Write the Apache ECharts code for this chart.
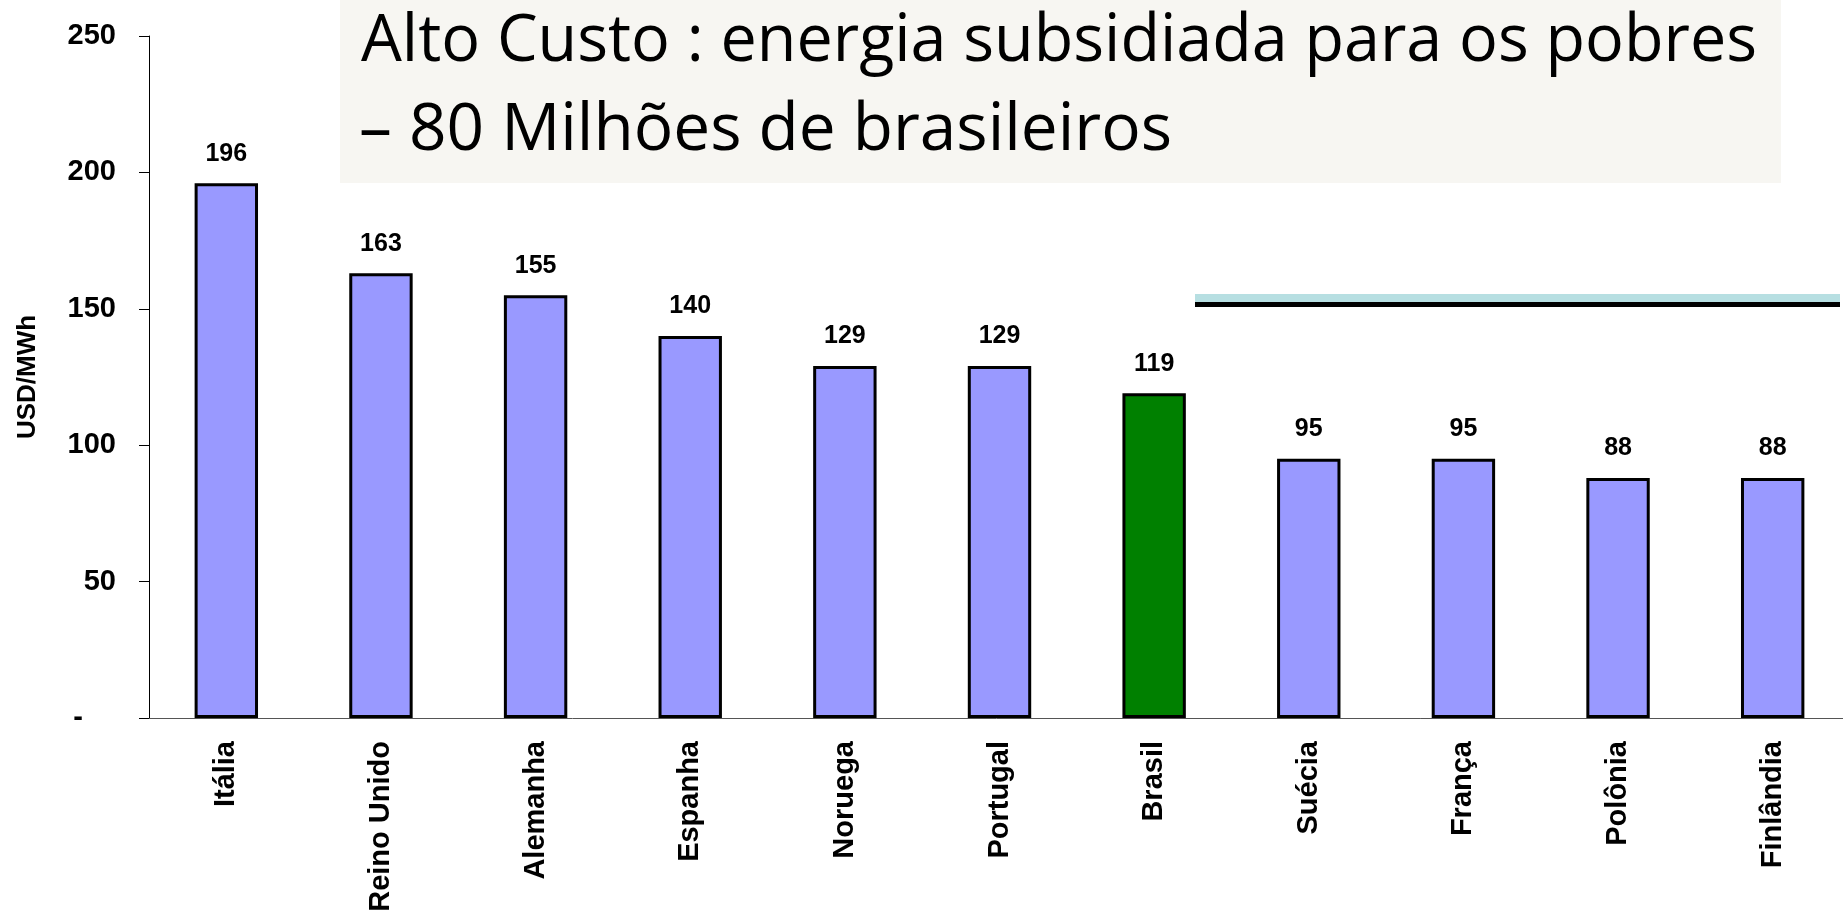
<!DOCTYPE html>
<html>
<head>
<meta charset="utf-8">
<title>Alto Custo</title>
<script src="https://cdn.jsdelivr.net/npm/echarts@6/dist/echarts.min.js"></script>
<style>
  html, body { margin: 0; padding: 0; background: #fff; }
  #main { width: 1843px; height: 911px; }
</style>
</head>
<body>
<div id="main"></div>
<script>
// dados
var categories = ['Itália', 'Reino Unido', 'Alemanha', 'Espanha', 'Noruega', 'Portugal', 'Brasil', 'Suécia', 'França', 'Polônia', 'Finlândia'];
var values = [196, 163, 155, 140, 129, 129, 119, 95, 95, 88, 88];
var highlight = 'Brasil';
var yMin = 0, yMax = 250, yStep = 50;
var yName = 'USD/MWh';
var titleLines = ['Alto Custo : energia subsidiada para os pobres', '\u2013 80 Milhões de brasileiros'];

var titleFont = '66px "Open Sans"';
function fitScale(text, width) {
  var ctx = document.createElement('canvas').getContext('2d');
  ctx.font = titleFont;
  return width / ctx.measureText(text).width;
}

var labelFont = 'Liberation Sans';
var chart = echarts.init(document.getElementById('main'));
chart.setOption({
  animation: false,
  grid: { left: 149, right: -7, top: 36, bottom: 193, containLabel: false, outerBoundsMode: 'none' },
  xAxis: {
    type: 'category',
    data: categories,
    axisLine: { lineStyle: { color: '#555', width: 1 } },
    axisTick: { length: 9, lineStyle: { color: '#555' } },
    axisLabel: {
      rotate: 90,
      margin: 23,
      color: '#000',
      fontSize: 29,
      fontWeight: 'bold',
      fontFamily: labelFont
    }
  },
  yAxis: {
    type: 'value',
    min: yMin,
    max: yMax,
    interval: yStep,
    name: yName,
    nameLocation: 'middle',
    nameGap: 108,
    nameRotate: 90,
    nameTextStyle: { color: '#000', fontSize: 26, fontWeight: 'bold', fontFamily: labelFont },
    splitLine: { show: false },
    axisLine: { show: true, lineStyle: { color: '#000', width: 1 } },
    axisTick: { show: true, length: 10, lineStyle: { color: '#000' } },
    axisLabel: {
      margin: 33,
      color: '#000',
      fontSize: 29,
      fontWeight: 'bold',
      fontFamily: labelFont,
      formatter: function (v) { return v === 0 ? '{d|-}' : v; },
      rich: {
        d: { fontSize: 29, fontWeight: 'bold', fontFamily: labelFont, color: '#000', padding: [0, 33, 0, 0] }
      }
    }
  },
  series: [{
    type: 'bar',
    data: values,
    barWidth: '41%',
    itemStyle: {
      color: function (p) { return p.name === highlight ? '#008000' : '#9999FF'; },
      borderColor: '#000',
      borderWidth: 3
    },
    label: {
      show: true,
      position: 'top',
      distance: 17,
      color: '#000',
      fontSize: 25,
      fontWeight: 'bold',
      fontFamily: labelFont
    }
  }],
  graphic: [
    { type: 'rect', shape: { x: 340, y: 0, width: 1441, height: 183 }, style: { fill: '#F7F6F2' }, z: 0 },
    { type: 'text', x: 361, y: 42, scaleX: fitScale(titleLines[0], 1396),
      style: { text: titleLines[0], font: titleFont, fill: '#000', verticalAlign: 'middle' }, z: 1 },
    { type: 'text', x: 359, y: 131, scaleX: fitScale(titleLines[1], 813),
      style: { text: titleLines[1], font: titleFont, fill: '#000', verticalAlign: 'middle' }, z: 1 },
    { type: 'rect', shape: { x: 1195, y: 294, width: 645, height: 8 }, style: { fill: '#B7DFE2' }, z: 1 },
    { type: 'rect', shape: { x: 1195, y: 302, width: 645, height: 5 }, style: { fill: '#000' }, z: 1 }
  ]
});
</script>
</body>
</html>
